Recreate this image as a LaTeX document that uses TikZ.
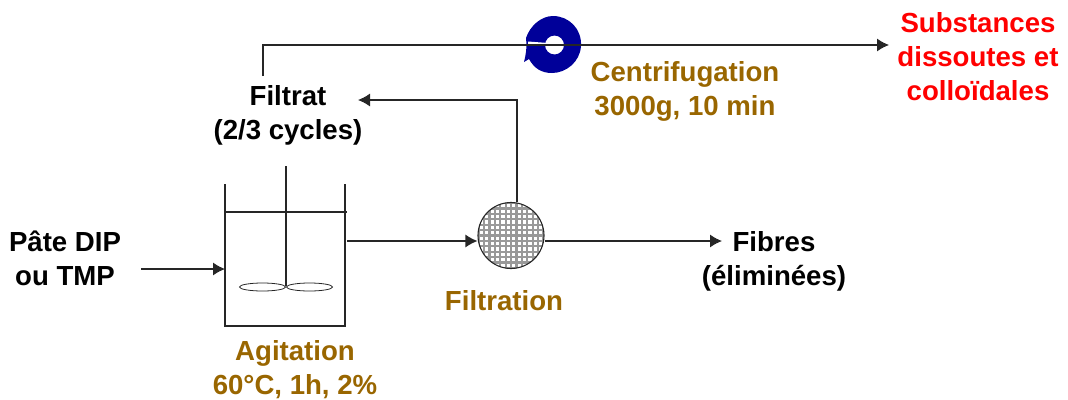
\documentclass[tikz,border=0pt]{standalone}
\usepackage{fontspec}
\usetikzlibrary{shapes.geometric,arrows.meta}
\setmainfont{Liberation Sans}
\definecolor{brun}{HTML}{996600}
\definecolor{bleu}{HTML}{000099}
\tikzset{
  texte/.style={align=center,inner sep=0pt,font=\bfseries\fontsize{27.6}{34}\selectfont},
  fleche/.style={-{Latex[length=12pt,width=13pt]},line width=1.1pt,black!85},
  trait/.style={line width=1.1pt,black!85},
  pale/.style={draw,line width=0.8pt,black!85,ellipse,minimum width=46pt,minimum height=8pt,inner sep=0pt}
}
\begin{document}
\begin{tikzpicture}[x=1pt,y=-1pt]
  \useasboundingbox (0,0) rectangle (1068,399);
  \draw
    (65,258) node[texte] (pate){P\^ate DIP\\ou TMP}
    (288,115) node[texte] (filtrat){Filtrat\\(2/3 cycles)}
    (295,370) node[texte,text=brun] (agitation){Agitation\\60\textdegree C, 1h, 2\%}
    (504,301) node[texte,text=brun] (filtration){Filtration}
    (685,91.5) node[texte,text=brun] (centri){Centrifugation\\3000g, 10 min}
    (978,57) node[texte,text=red] (substances){Substances\\dissoutes et\\collo\"idales}
    (774,261) node[texte] (fibres){Fibres\\(\'elimin\'ees)};
  % bol de centrifugation
  \fill[bleu,even odd rule]
    (524,62) .. controls (526,54) and (527,48) .. (526,38)
    .. controls (530,26) and (541,16) .. (553,16)
    .. controls (569,16) and (582,29) .. (581,46)
    .. controls (580,62) and (566,73) .. (552,73)
    .. controls (541,73) and (534,68) .. (529,59) -- cycle
    (554.5,45) circle (9.5pt);
  \fill[white] (528,41.5) -- (548,43) -- (548,46) -- (528,45) -- cycle;
  % cuve
  \coordinate (c1) at (225,184);
  \coordinate (c2) at (225,326);
  \coordinate (c3) at (345,326);
  \coordinate (c4) at (345,184);
  \coordinate (n1) at (225,212);
  \coordinate (n2) at (347,212);
  \coordinate (a1) at (286,166);
  \coordinate (a2) at (286,286);
  \draw[trait] (c1) -- (c2) -- (c3) -- (c4);
  \draw[trait] (n1) -- (n2);
  \draw[trait] (a1) -- (a2);
  \node[pale] (pale1) at (262.5,287) {};
  \node[pale] (pale2) at (309.5,287) {};
  % filtre
  \node[circle,draw,trait,minimum size=66pt,inner sep=0pt,fill=white,
    path picture={
      \foreach \i in {-6,...,6}{
        \draw[black!40,line width=2.2pt] (\i*5.4,-34) -- (\i*5.4,34);
        \draw[black!40,line width=2.2pt] (-34,\i*5.4) -- (34,\i*5.4);
      }
    }] (filtre) at (511,235.5) {};
  % liaisons
  \coordinate (e1) at (141,269);
  \coordinate (e2) at (225,269);
  \coordinate (s1) at (347,241);
  \coordinate (s2) at (517,100);
  \coordinate (f1) at (263,76);
  \coordinate (f2) at (263,45);
  \coordinate (f3) at (889,45);
  \coordinate (f4) at (358,100);
  \coordinate (g1) at (722,241);
  \begin{scope}[fleche]
    \draw (e1) to (e2);
    \draw (s1) to (s1 -| filtre.west);
    \draw (filtre.north -| s2) -- (s2) to (f4);
    \draw (f1) -- (f2) to (f3);
    \draw (g1 -| filtre.east) to (g1);
  \end{scope}
\end{tikzpicture}
\end{document}
